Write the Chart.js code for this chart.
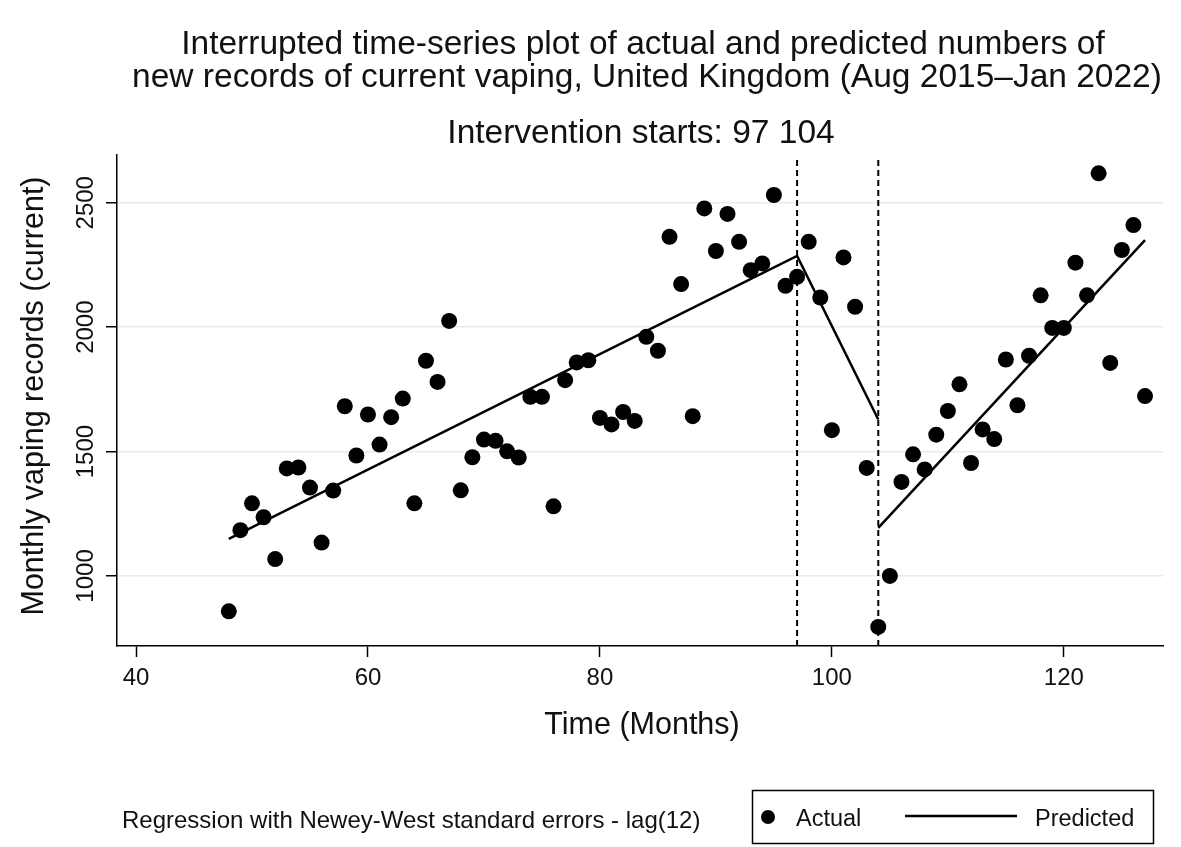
<!DOCTYPE html>
<html><head><meta charset="utf-8">
<script src="https://cdn.jsdelivr.net/npm/chart.js@4.4.1/dist/chart.umd.min.js"></script>
<style>html,body{margin:0;padding:0;background:#fff;}#wrap{width:1181px;height:847px;position:relative}</style>
</head><body><div id="wrap"><canvas id="c" width="1181" height="847"></canvas></div>
<script>
// ---- data ----
const months = [48,49,50,51,52,53,54,55,56,57,58,59,60,61,62,63,64,65,66,67,68,69,70,71,72,73,74,75,76,77,78,79,80,81,82,83,84,85,86,87,88,89,90,91,92,93,94,95,96,97,98,99,100,101,102,103,104,105,106,107,108,109,110,111,112,113,114,115,116,117,118,119,120,121,122,123,124,125,126,127];
const actual = [858,1184,1292,1236,1068,1432,1436,1355,1134,1343,1682,1484,1649,1528,1638,1713,1292,1865,1780,2025,1344,1477,1548,1543,1501,1476,1720,1720,1280,1787,1858,1867,1635,1609,1659,1623,1961,1905,2363,2173,1642,2477,2306,2455,2343,2229,2256,2531,2166,2202,2343,2119,1586,2280,2082,1434,795,1000,1378,1489,1428,1568,1663,1770,1454,1589,1550,1870,1686,1885,2128,1997,1997,2259,2128,2618,1856,2310,2410,1723];
const predMonthsPre = [48,97,104];
const predValuesPre = [1149,2286,1629];
const predMonthsPost = [104,127];
const predValuesPost = [1193,2350];
const interventions = [97,104];
const xTicks = [40,60,80,100,120];
const yTicks = [1000,1500,2000,2500];
const titleLines = ["Interrupted time-series plot of actual and predicted numbers of","new records of current vaping, United Kingdom (Aug 2015\u2013Jan 2022)"];
const subtitle = "Intervention starts: 97 104";
const xTitle = "Time (Months)";
const yTitle = "Monthly vaping records (current)";
const footnote = "Regression with Newey-West standard errors - lag(12)";
const legendLabels = ["Actual","Predicted"];

// ---- setup ----
const FAM = '"Liberation Sans", Arial, sans-serif';
const X_MIN = 38.36, X_MAX = 128.55, Y_MIN = 718.5, Y_MAX = 2691.8, Y_LINE_TOP = 2672;
const TXT = '#111';

const zip = (xs, ys) => xs.map((x,i)=>({x:x, y:ys[i]}));

const datasets = [
  {type:'scatter', label:legendLabels[0], data: zip(months, actual), pointRadius:8, pointHoverRadius:8,
   backgroundColor:'#000', borderWidth:0, order:3},
  {type:'line', label:legendLabels[1], data: zip(predMonthsPre, predValuesPre), borderColor:'#000', borderWidth:2.5,
   pointRadius:0, fill:false, tension:0, order:1},
  {type:'line', label:legendLabels[1]+'2', data: zip(predMonthsPost, predValuesPost), borderColor:'#000', borderWidth:2.5,
   pointRadius:0, fill:false, tension:0, order:1}
];
interventions.forEach(v=>{
  datasets.push({type:'line', label:'int'+v, data:[{x:v,y:Y_MIN},{x:v,y:Y_LINE_TOP}], borderColor:'#000', borderWidth:2,
    borderDash:[6,4], pointRadius:0, fill:false, order:2});
});

const textPlugin = {
  id:'texts',
  afterDraw(chart){
    const ctx = chart.ctx;
    ctx.save();
    ctx.fillStyle = TXT;
    ctx.textAlign='center'; ctx.textBaseline='alphabetic';
    ctx.font = '33.5px ' + FAM;
    ctx.fillText(titleLines[0], 643, 54);
    ctx.fillText(titleLines[1], 647, 87);
    ctx.fillText(subtitle, 641, 143);
    ctx.font = '30.5px ' + FAM;
    ctx.fillText(xTitle, 642, 734);
    ctx.save(); ctx.translate(35, 396); ctx.rotate(-Math.PI/2); ctx.textBaseline='middle'; ctx.fillText(yTitle,0,0); ctx.restore();
    ctx.font = '24px ' + FAM; ctx.textAlign='left'; ctx.textBaseline='alphabetic';
    ctx.fillText(footnote, 122, 828);
    ctx.strokeStyle='#000'; ctx.lineWidth=1.5; ctx.strokeRect(752.5,790.5,401,53);
    ctx.fillStyle='#000';
    ctx.beginPath(); ctx.arc(768,817,7,0,2*Math.PI); ctx.fill();
    ctx.fillStyle=TXT;
    ctx.font = '23.5px ' + FAM;
    ctx.fillText(legendLabels[0], 796, 826);
    ctx.beginPath(); ctx.moveTo(905,816); ctx.lineTo(1017,816); ctx.lineWidth=2.5; ctx.stroke();
    ctx.fillText(legendLabels[1], 1035, 826);
    ctx.restore();
  }
};

new Chart(document.getElementById('c'), {
  data:{datasets},
  options:{
    responsive:false, animation:false, devicePixelRatio:1,
    layout:{padding:{top:155,right:18,left:0,bottom:0}},
    plugins:{legend:{display:false}, title:{display:false}, tooltip:{enabled:false}},
    scales:{
      x:{type:'linear', min:X_MIN, max:X_MAX,
        grid:{display:true, drawOnChartArea:false, drawTicks:true, tickLength:11, tickColor:'#000', tickWidth:1.5},
        border:{display:true, color:'#000', width:1.5},
        ticks:{font:{family:FAM, size:24}, color:TXT, padding:7, maxRotation:0, autoSkip:false,
          callback:v=>String(v)},
        afterBuildTicks:s=>{s.ticks = xTicks.map(v=>({value:v}));},
        afterFit:s=>{s.height = 847-646;}
      },
      y:{type:'linear', min:Y_MIN, max:Y_MAX,
        grid:{color:'#e6ebeb', lineWidth:1.5, tickLength:11, tickColor:'#000', tickWidth:1.5},
        border:{display:true, color:'#000', width:1.5},
        ticks:{font:{family:FAM, size:24}, color:TXT, minRotation:90, maxRotation:90, crossAlign:'center', padding:-7, autoSkip:false,
          callback:v=>String(v)},
        afterBuildTicks:s=>{s.ticks = yTicks.map(v=>({value:v}));},
        afterFit:s=>{s.width = 117;}
      }
    }
  },
  plugins:[textPlugin]
});
</script></body></html>
